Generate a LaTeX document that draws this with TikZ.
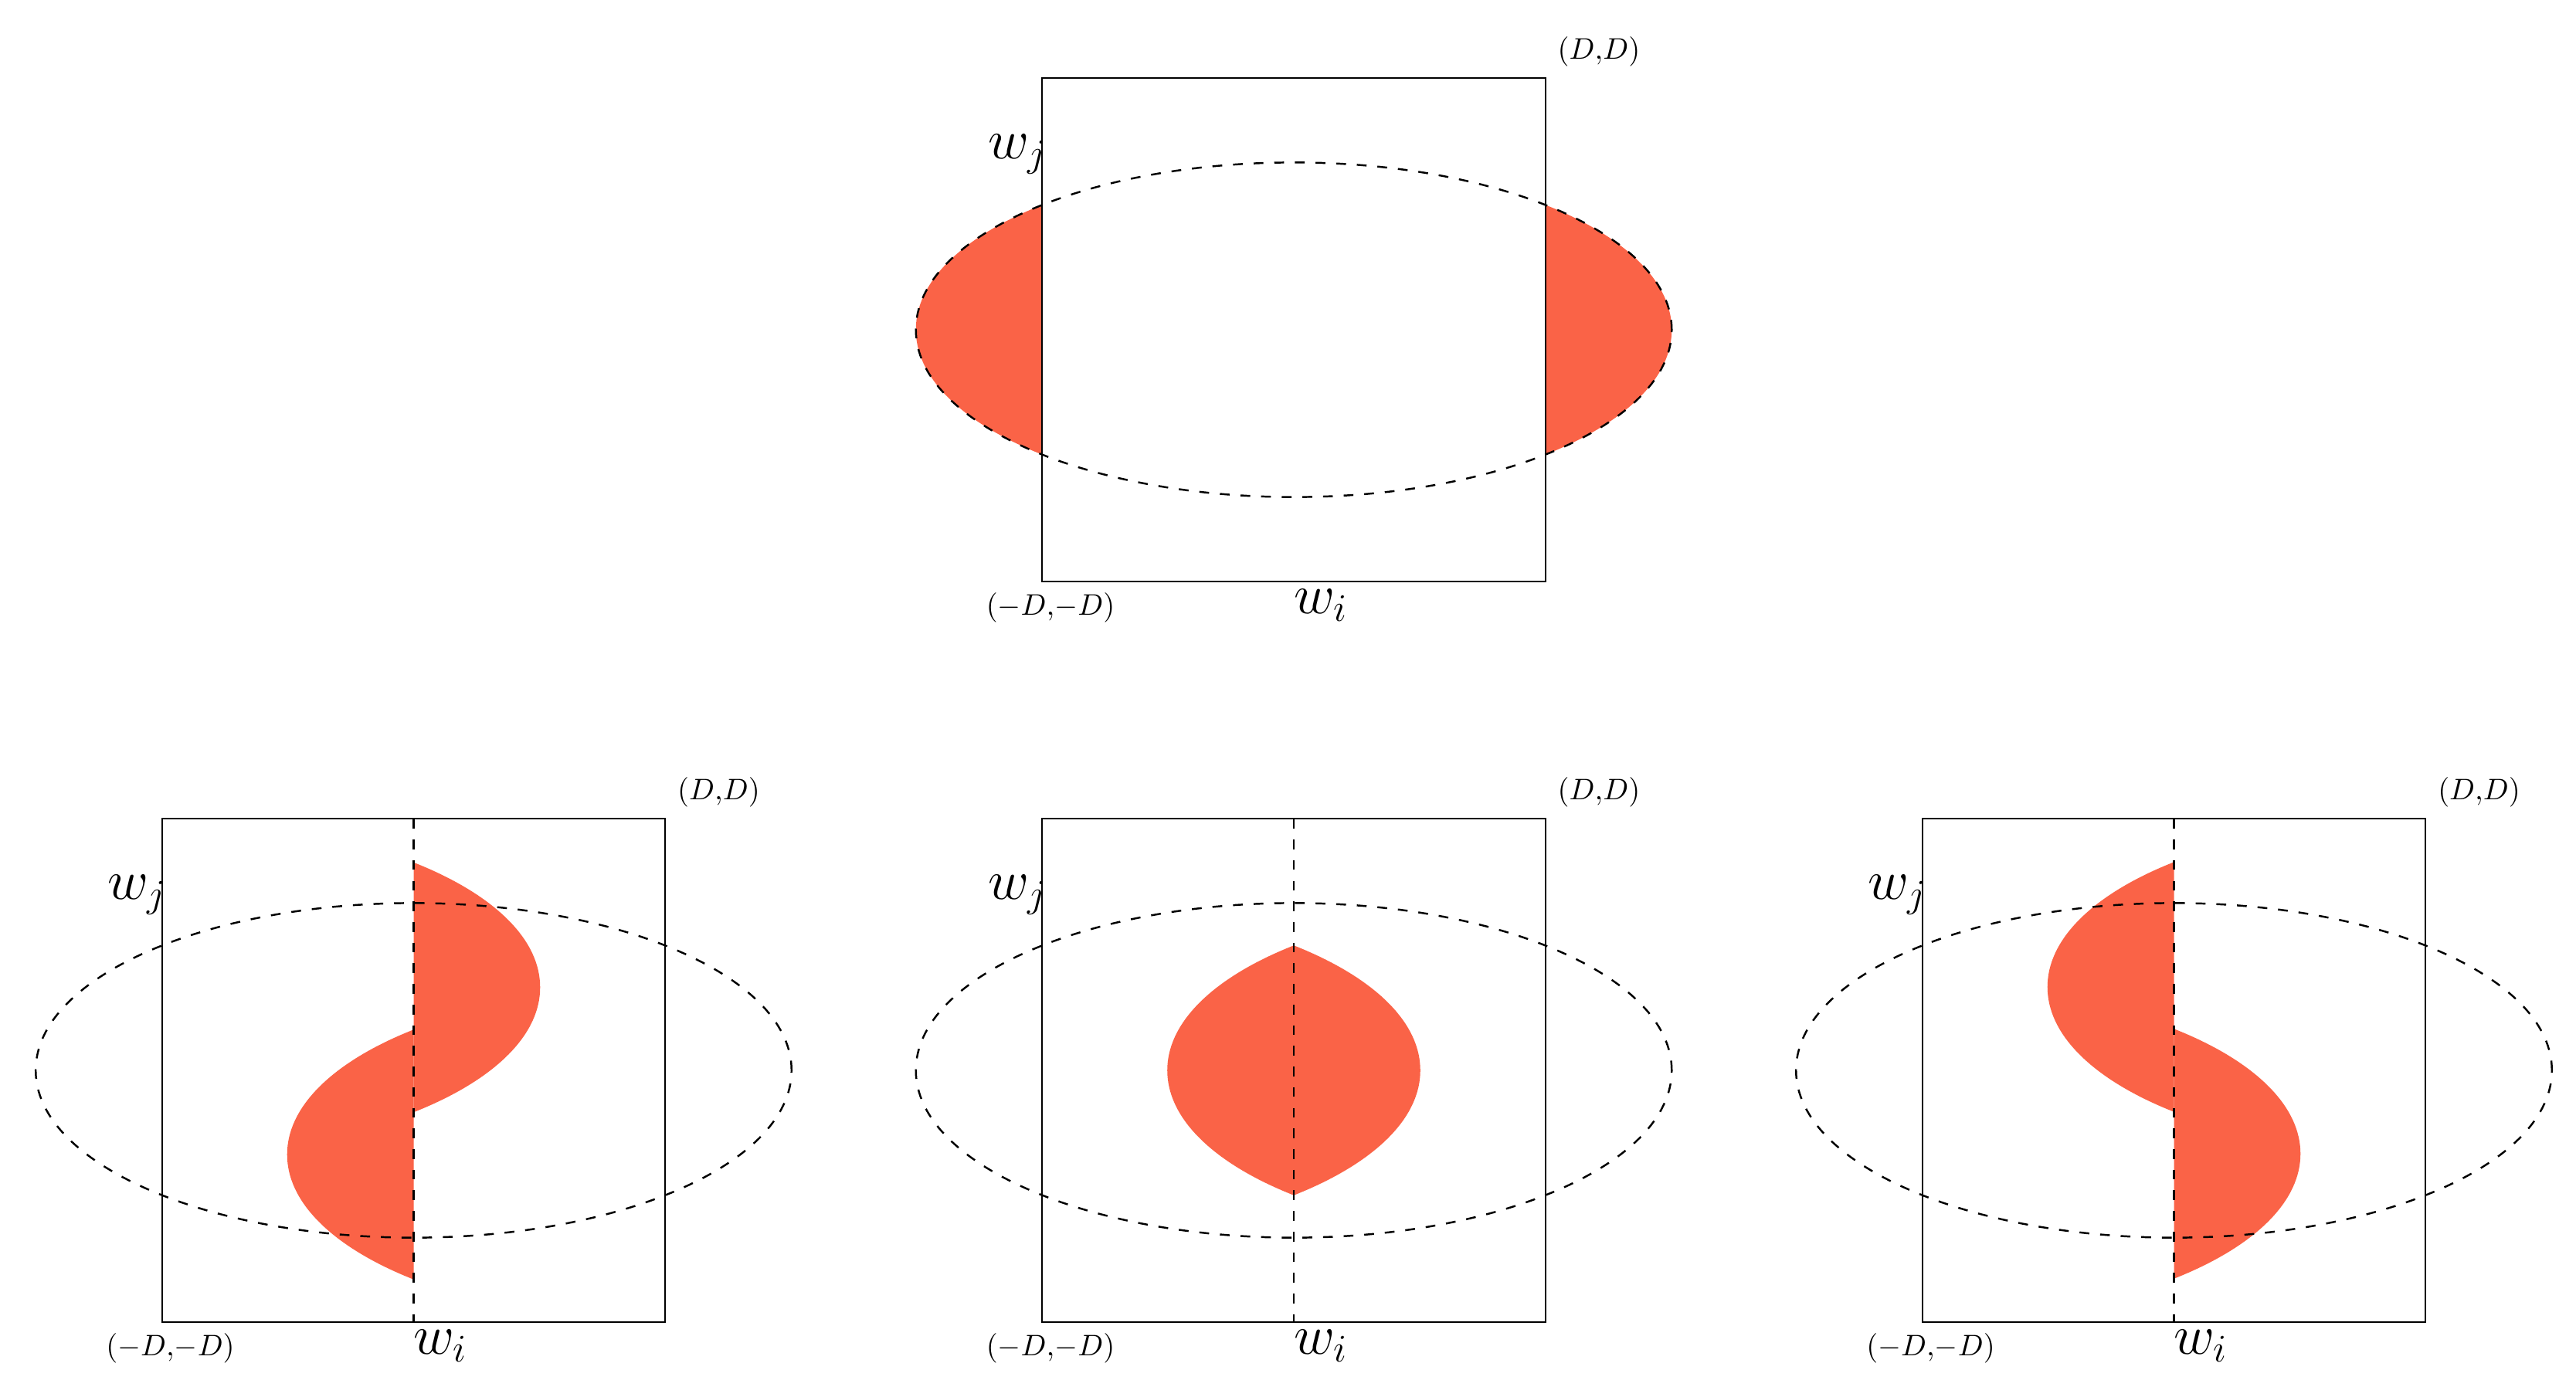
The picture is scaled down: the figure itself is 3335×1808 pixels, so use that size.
\documentclass[tikz,border=0pt]{standalone}
\usepackage{tikz}
\definecolor{lobecol}{RGB}{250,99,71}
\tikzset{
  sqbox/.style={draw=black, line width=0.65pt, minimum size=6.51cm, inner sep=0pt, outer sep=0pt},
  dsh/.style={draw=black, line width=0.7pt, dash pattern=on 3.6pt off 4pt},
  lobe/.style={fill=lobecol},
  biglab/.style={font=\fontsize{21}{25}\selectfont, inner sep=0pt, outer sep=0pt},
  smalllab/.style={font=\fontsize{10.8}{13}\selectfont, inner sep=0pt, outer sep=0pt},
  ell/.style={x radius=4.89cm, y radius=2.165cm}
}
\newcommand{\labelsfor}[3]{%
  \node[smalllab] (#1dd) at ({#2+395},{#3-360}) {$(D{,}D)$};
  \node[smalllab] (#1mdd) at ({#2-315},{#3+360}) {$({-D}{,}{-D})$};
  \node[biglab, anchor=base west] (#1wi) at ({#2},{#3+367}) {$w_i$};
  \node[biglab, anchor=base west] (#1wj) at ({#2-396},{#3-222}) {$w_j$};
}
\newcommand{\bpanel}[5]{%
  \begin{scope}
    \clip ({#2},{#3-420}) rectangle ({#2+220},{#3+420});
    \fill[lobe] ({#2-325.5},{#3+(#4)}) ellipse [ell];
  \end{scope}
  \begin{scope}
    \clip ({#2-220},{#3-420}) rectangle ({#2},{#3+420});
    \fill[lobe] ({#2+325.5},{#3+(#5)}) ellipse [ell];
  \end{scope}
  \node[sqbox] (#1sq) at ({#2},{#3}) {};
  \draw[dsh] (#1sq.north) -- (#1sq.south);
  \draw[dsh] ({#2},{#3}) ellipse [ell];
  \labelsfor{#1}{#2}{#3}
}
\begin{document}
\begin{tikzpicture}[x=0.01cm, y=-0.01cm]
\useasboundingbox (0,0) rectangle (3335,1808);
\fill[white] (0,0) rectangle (3335,1808);
% top panel
\begin{scope}
  \clip (1675,427) ellipse [ell];
  \fill[lobe, even odd rule] (1100,100) rectangle (2250,760) (1349.5,101.5) rectangle (2000.5,752.5);
\end{scope}
\node[sqbox] (tsq) at (1675,427) {};
\draw[dsh] (1675,427) ellipse [ell];
\labelsfor{t}{1675}{427}
% bottom panels
\bpanel{a}{535.5}{1386}{-107.5}{109}
\bpanel{b}{1675}{1386}{0}{0}
\bpanel{c}{2814.5}{1386}{108}{-108}
\end{tikzpicture}
\end{document}
